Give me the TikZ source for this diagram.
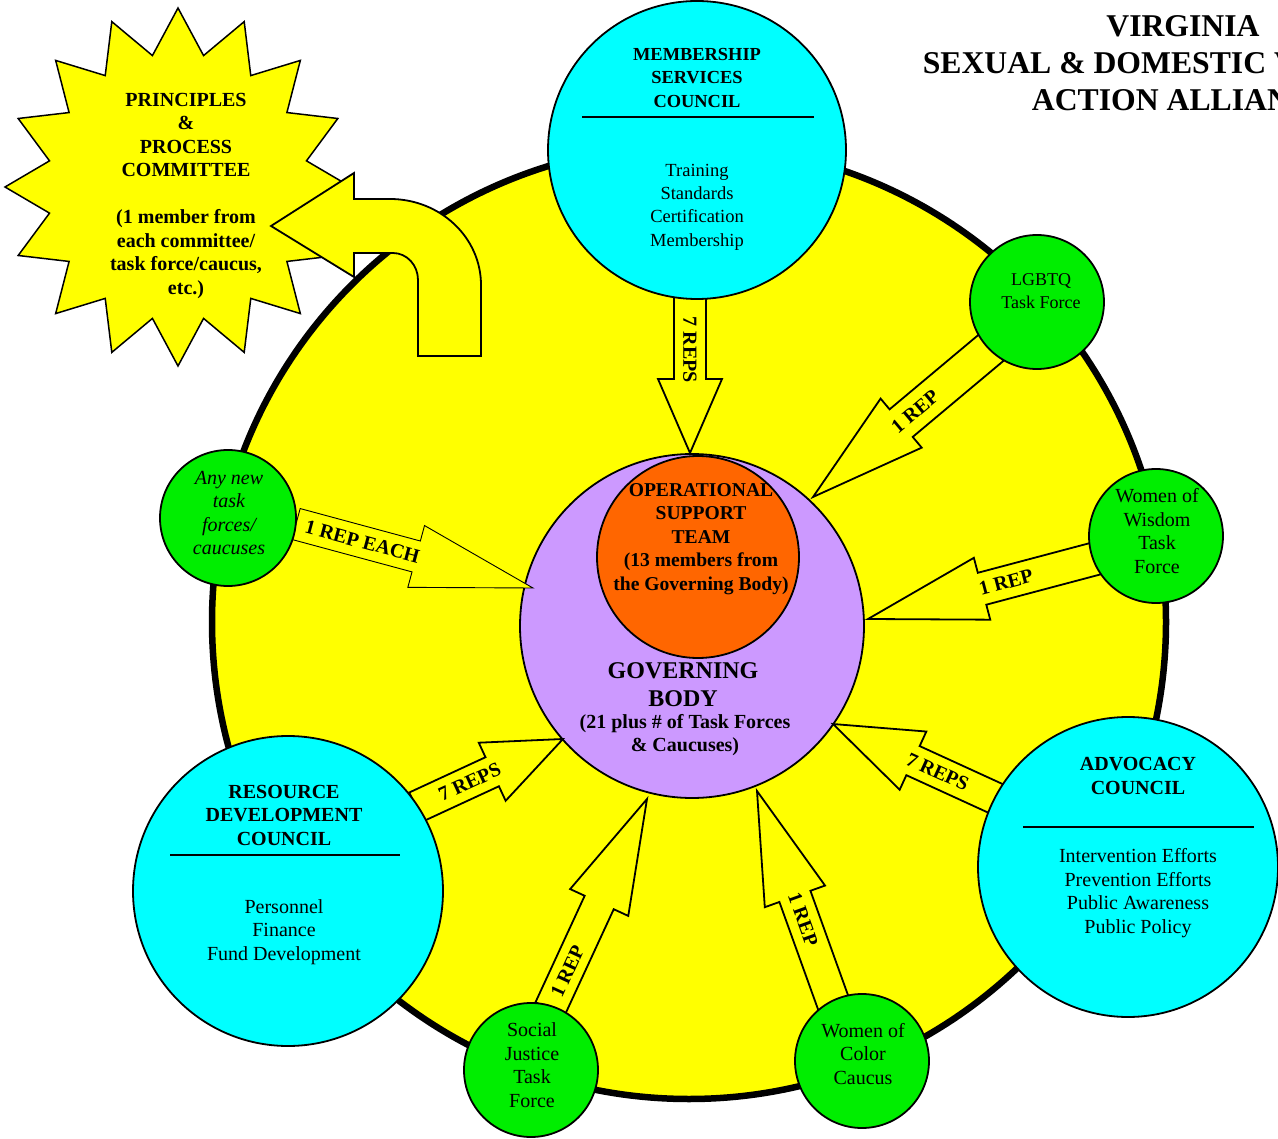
\documentclass[tikz,border=0pt]{standalone}
\usepackage{fontspec}
\setmainfont{Liberation Serif}
\usetikzlibrary{calc}
\definecolor{ylw}{HTML}{FFFF00}
\definecolor{cyn}{HTML}{00FFFF}
\definecolor{grn}{HTML}{00EE00}
\definecolor{lav}{HTML}{CC99FF}
\definecolor{org}{HTML}{FF6600}
\tikzset{
  circ/.style={circle, draw=black, line width=1.8pt, inner sep=0pt, outer sep=0pt},
  council/.style={circ, fill=cyn},
  grp/.style={circ, fill=grn},
  arrowbox/.style={draw=black, fill=ylw, line width=1.8pt, line join=miter},
  arrowlabel/.style={font=\fontsize{20}{23.5}\selectfont\bfseries, inner sep=0pt},
  bodytxt/.style={align=center, font=\fontsize{20}{23.5}\selectfont, inner sep=0pt},
  boldtxt/.style={align=center, font=\fontsize{20}{23.5}\selectfont\bfseries, inner sep=0pt},
  councilrule/.style={line width=2.5pt},
  burst/.style={draw=black, fill=ylw, line width=1.5pt, line join=miter},
}
% #1 tail, #2 tip, #3 head length, #4 shaft half width, #5 label, #6 label options, #7 draw options
\newcommand{\blockarrow}[7]{%
  \coordinate (ba-h) at ($(#2)!#3!(#1)$);
  \draw[arrowbox,#7] ($(#1)!#4!90:(#2)$) -- ($(ba-h)!#4!90:(#2)$) -- ($(ba-h)!32pt!90:(#2)$) -- (#2)
     -- ($(ba-h)!32pt!-90:(#2)$) -- ($(ba-h)!#4!-90:(#2)$) -- ($(#1)!#4!-90:(#2)$) -- cycle;
  \path (#1) -- (#2) node[arrowlabel,#6] {#5};
}
\begin{document}
\begin{tikzpicture}[x=1pt,y=-1pt]
\useasboundingbox (0,0) rectangle (1278,1139);
\fill[white] (0,0) rectangle (1278,1139);

% big ring and central bodies
\node[circ, fill=ylw, line width=6.5pt, minimum size=954pt] (ring) at (689,622) {};
\node[circ, fill=lav, minimum size=344pt] (gb) at (692,626) {};
\node[circ, fill=org, minimum size=202pt] (ost) at (698,557) {};

% arrow end points
\coordinate (a1t) at (690,296);   \coordinate (a1p) at (690,453);
\coordinate (a2t) at (992,347);   \coordinate (a2p) at (813,497);
\coordinate (a3t) at (1098,558);  \coordinate (a3p) at (868,619);
\coordinate (a4t) at (999,800);   \coordinate (a4p) at (833,724);
\coordinate (a5t) at (834,1005);  \coordinate (a5p) at (757,791);
\coordinate (a6t) at (550,1009);  \coordinate (a6p) at (647,799);
\coordinate (a7t) at (416,807);   \coordinate (a7p) at (563,739);
\coordinate (a8t) at (296,524);   \coordinate (a8p) at (533,588);

\blockarrow{a1t}{a1p}{74pt}{16pt}{7 REPS}{name=l1, pos=0.344, rotate=-90}{}
\blockarrow{a2t}{a2p}{115pt}{18pt}{1 REP}{name=l2, pos=0.43, sloped}{}
\blockarrow{a3t}{a3p}{118pt}{16.5pt}{1 REP}{name=l3, pos=0.40, sloped}{}
\blockarrow{a4t}{a4p}{88pt}{16pt}{7 REPS}{name=l4, pos=0.37, sloped}{}
\blockarrow{a5t}{a5p}{112pt}{16.5pt}{1 REP}{name=l5, pos=0.40, sloped}{}
\blockarrow{a6t}{a6p}{114pt}{16pt}{1 REP}{name=l6, pos=0.18, sloped}{}
\blockarrow{a7t}{a7p}{78pt}{16pt}{7 REPS}{name=l7, pos=0.365, sloped}{}
\blockarrow{a8t}{a8p}{121pt}{16pt}{1 REP EACH}{name=l8, pos=0.28, sloped}{line width=0.9pt}

% outer circles
\node[council, minimum size=298pt] (msc) at (697,150) {};
\node[council, minimum size=310pt] (rdc) at (288,891) {};
\node[council, minimum size=300pt] (adv) at (1128,867) {};
\node[grp, minimum size=134pt] (lgbtq) at (1037,302) {};
\node[grp, minimum size=134pt] (wow) at (1156,536) {};
\node[grp, minimum size=136pt] (anynew) at (228,518) {};
\node[grp, minimum size=134pt] (sj) at (531,1070) {};
\node[grp, minimum size=134pt] (woc) at (862,1061) {};

% texts
\node[boldtxt, font=\fontsize{18.4}{23.4}\selectfont\bfseries] (msct) at (697,78) {MEMBERSHIP\\SERVICES\\COUNCIL};
\draw[councilrule] (582,117) -- (814,117);
\node[bodytxt, font=\fontsize{18.5}{23.4}\selectfont] (mscb) at (697,207) {Training\\Standards\\Certification\\Membership};

\node[bodytxt, font=\fontsize{18}{23}\selectfont] (lgbtqt) at (1041,291) {LGBTQ\\Task Force};
\node[bodytxt] (wowt) at (1157,531) {Women of\\Wisdom\\Task\\Force};
\node[bodytxt, font=\fontsize{20}{23.5}\selectfont\itshape] (anynewt) at (229,513) {Any new\\task\\forces/\\caucuses};
\node[bodytxt] (sjt) at (532,1065) {Social\\Justice\\Task\\Force};
\node[bodytxt] (woct) at (863,1054) {Women of\\Color\\Caucus};

\node[boldtxt] (rdct) at (284,815) {RESOURCE\\DEVELOPMENT\\COUNCIL};
\draw[councilrule] (170,855) -- (400,855);
\node[bodytxt] (rdcb) at (284,932) {Personnel\\Finance\\Fund Development};

\node[boldtxt] (advt) at (1138,776) {ADVOCACY\\COUNCIL};
\draw[councilrule] (1023,827) -- (1254,827);
\node[bodytxt] (advb) at (1138,893) {Intervention Efforts\\Prevention Efforts\\Public Awareness\\Public Policy};

\node[boldtxt, font=\fontsize{19.6}{23.5}\selectfont\bfseries] (ostt) at (701,539) {OPERATIONAL\\SUPPORT\\TEAM\\(13 members from\\the Governing Body)};
\node[boldtxt, font=\fontsize{24}{28}\selectfont\bfseries] (gbt) at (683,685) {GOVERNING\\BODY};
\node[boldtxt] (gbs) at (685,735) {(21 plus \# of Task Forces\\\& Caucuses)};

% principles & process starburst
\draw[burst] (178,8) \foreach \a in {90,112.5,...,427.5} {
   -- ({178+173*cos(\a)},{187-179*sin(\a)})
   -- ({178+131*cos(\a+11.25)},{187-134*sin(\a+11.25)}) } -- cycle;
\node[boldtxt] (ppc) at (186,196) {PRINCIPLES\\\&\\PROCESS\\COMMITTEE\\\mbox{}\\(1 member from\\each committee/\\task force/caucus,\\etc.)};

% curved arrow from the ring to the committee
\draw[arrowbox] (271,226) -- (354,173) -- (354,199) -- (390,199)
   arc[start angle=90, end angle=0, x radius=91pt, y radius=86pt]
   -- (481,356) -- (418,356) -- (418,280)
   arc[start angle=0, end angle=90, x radius=25pt, y radius=27pt]
   -- (354,253) -- (354,277) -- cycle;

% title
\begin{scope}
\clip (0,0) rectangle (1278,1139);
\node[align=center, inner sep=0pt, font=\fontsize{31.7}{37}\selectfont\bfseries] (title) at (1183,63)
   {VIRGINIA\\SEXUAL \& DOMESTIC VIOLENCE\\ACTION ALLIANCE};
\end{scope}
\end{tikzpicture}
\end{document}
